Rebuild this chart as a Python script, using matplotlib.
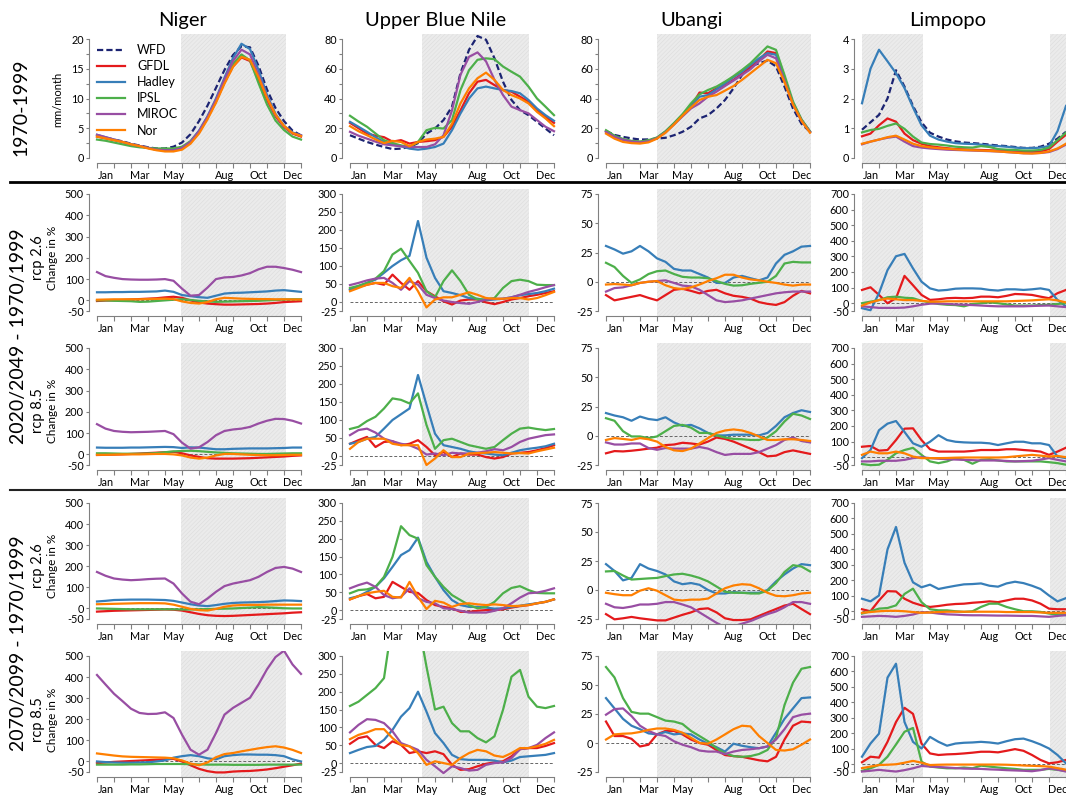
import numpy as np
import matplotlib.pyplot as plt
from matplotlib.lines import Line2D

plt.rcParams['font.family'] = ['Lato', 'DejaVu Sans']
plt.rcParams['hatch.linewidth'] = 0.4

# half-month steps from 1 Jan (0) to 31 Dec (12)
months = np.arange(25) / 2
month_pos = [0.5, 2.5, 4.5, 7.5, 9.5, 11.5]
month_names = ['Jan', 'Mar', 'May', 'Aug', 'Oct', 'Dec']

models = ['GFDL', 'Hadley', 'IPSL', 'MIROC', 'Nor']
colors = {'WFD': '#1c2472', 'GFDL': '#e41a1c', 'Hadley': '#377eb8',
          'IPSL': '#4daf4a', 'MIROC': '#984ea3', 'Nor': '#ff7f00'}

basins = ['Niger', 'Upper Blue Nile', 'Ubangi', 'Limpopo']

# ---- 1970-1999 runoff, mm/month ----
niger_hist_wfd = [3.7, 3.4, 3.1, 2.8, 2.4, 2.1, 1.8, 1.6, 1.6, 1.9, 2.6, 4.0, 6.2, 8.8, 11.8, 14.8, 17.3, 18.8, 18.6, 15.5, 11.5, 8.4, 6.2, 4.6, 3.8]
niger_hist_gfdl = [3.6, 3.3, 3.0, 2.7, 2.3, 2.0, 1.7, 1.4, 1.3, 1.3, 1.6, 2.6, 4.3, 6.7, 9.5, 12.7, 15.4, 16.9, 16.3, 13.2, 9.8, 7.0, 5.2, 4.1, 3.6]
niger_hist_hadley = [3.9, 3.5, 3.1, 2.7, 2.3, 2.0, 1.7, 1.4, 1.3, 1.3, 1.7, 2.8, 4.6, 7.0, 10.0, 13.5, 16.8, 19.2, 18.3, 14.8, 10.6, 7.4, 5.4, 4.3, 3.8]
niger_hist_ipsl = [3.1, 2.9, 2.6, 2.3, 2.0, 1.8, 1.7, 1.6, 1.6, 1.6, 1.9, 2.8, 4.4, 6.8, 9.7, 13.0, 15.8, 17.4, 16.4, 12.6, 9.0, 6.3, 4.7, 3.6, 3.1]
niger_hist_miroc = [3.9, 3.5, 3.1, 2.7, 2.3, 2.0, 1.7, 1.4, 1.3, 1.3, 1.7, 2.7, 4.5, 6.9, 9.8, 13.2, 16.3, 18.2, 17.4, 14.0, 10.2, 7.2, 5.3, 4.2, 3.8]
niger_hist_nor = [3.6, 3.3, 3.0, 2.7, 2.3, 2.0, 1.6, 1.3, 1.1, 1.1, 1.4, 2.4, 4.1, 6.5, 9.3, 12.5, 15.3, 17.0, 16.5, 13.6, 10.1, 7.3, 5.4, 4.2, 3.7]

ubn_hist_wfd = [15.3, 13, 10.8, 9, 7.4, 6, 6.3, 7.4, 10, 16.4, 19.8, 25.5, 34.5, 57, 72.7, 82, 79.5, 67, 51.3, 39, 32.2, 28.8, 24.3, 19.8, 15.3]
ubn_hist_gfdl = [23.6, 20, 16.4, 15, 14, 11, 12, 9.7, 10.8, 11.3, 12, 14.2, 21, 32, 43.5, 51.3, 52.5, 49, 45.7, 44.6, 41.2, 37.8, 32.2, 27.7, 23.6]
ubn_hist_hadley = [24.3, 21, 17.6, 14, 10.8, 9, 7.9, 6.3, 5.6, 6.3, 7.4, 9.7, 18.7, 30, 40, 46.8, 48, 46.8, 45.7, 45, 43.5, 39, 33.3, 28.8, 25]
ubn_hist_ipsl = [28.4, 24.5, 21, 16.5, 12, 10, 8.5, 7.4, 10.8, 18.7, 20.3, 19.8, 25.5, 45.7, 59, 66, 67, 66.4, 61.5, 58, 54.7, 48, 40, 34.5, 28.8]
ubn_hist_miroc = [17.6, 15, 13, 11, 9.2, 8.5, 7.9, 7.4, 7.4, 7.4, 9.2, 15.3, 32, 56, 68, 71, 65, 52.5, 42.3, 34.5, 32.2, 30, 25.5, 21, 18]
ubn_hist_nor = [21.4, 18, 15.3, 12.5, 10, 11.5, 10.8, 7.9, 10.8, 12.4, 13, 14.2, 23, 36.7, 46.8, 53.6, 57.4, 52.5, 45.7, 42.3, 40, 36.7, 31, 26.6, 21.4]

ubangi_hist_wfd = [18.2, 15.5, 14.2, 13.2, 12.4, 12.5, 13, 13.6, 15.3, 17.6, 21, 26.6, 28.8, 33.3, 39, 46.8, 55.8, 61.5, 63.7, 65.5, 61.5, 48, 33.3, 23, 17.6]
ubangi_hist_gfdl = [18, 14.5, 12.4, 11.2, 10.8, 11.5, 13.5, 17.6, 23, 28.8, 34.5, 44, 43.5, 46.8, 49, 52.5, 56.5, 61.5, 66, 71.6, 70.5, 53, 36.7, 25.5, 17.6]
ubangi_hist_hadley = [18, 14.5, 12.4, 11.2, 10.8, 11.5, 13.5, 17.6, 23, 28.8, 34.5, 41.2, 42.3, 46.2, 50.2, 54.3, 58, 62.6, 67, 70.5, 69.4, 53, 36.7, 25.5, 17.6]
ubangi_hist_ipsl = [18.7, 15, 12.8, 11.5, 11, 12, 13.8, 18, 23.5, 29.5, 36.7, 42.8, 45.7, 48, 51.3, 55, 59.2, 63.7, 69.4, 75, 72.7, 55.8, 38, 26, 18]
ubangi_hist_miroc = [17.5, 14.2, 12.2, 11, 10.5, 11.2, 13.3, 17.2, 22.5, 28, 33.3, 36.7, 41.2, 44.6, 48.4, 52, 55.8, 59.7, 65, 69.4, 67, 52, 36, 25, 17.5]
ubangi_hist_nor = [16.4, 13, 10.8, 10, 9.7, 10.5, 13, 17, 22.5, 28.5, 34, 39, 41.2, 42.3, 45.3, 48.4, 52.5, 57, 61.5, 66, 63.7, 51, 36, 25, 17]

limpopo_hist_wfd = [0.95, 1.2, 1.45, 2.0, 2.95, 2.4, 1.75, 1.2, 0.85, 0.72, 0.62, 0.56, 0.52, 0.5, 0.48, 0.45, 0.42, 0.4, 0.37, 0.34, 0.34, 0.38, 0.48, 0.65, 0.88]
limpopo_hist_gfdl = [0.73, 0.82, 1.1, 1.33, 1.22, 0.82, 0.6, 0.48, 0.4, 0.36, 0.33, 0.3, 0.29, 0.28, 0.27, 0.26, 0.25, 0.24, 0.22, 0.2, 0.2, 0.22, 0.3, 0.55, 0.78]
limpopo_hist_hadley = [1.84, 3.0, 3.64, 3.25, 2.85, 2.35, 1.7, 1.1, 0.75, 0.62, 0.55, 0.5, 0.48, 0.47, 0.45, 0.42, 0.4, 0.38, 0.35, 0.33, 0.33, 0.35, 0.4, 0.9, 1.75]
limpopo_hist_ipsl = [0.86, 0.94, 0.98, 1.08, 1.16, 0.98, 0.72, 0.52, 0.47, 0.45, 0.42, 0.38, 0.36, 0.35, 0.4, 0.37, 0.3, 0.28, 0.27, 0.25, 0.25, 0.27, 0.35, 0.6, 0.85]
limpopo_hist_miroc = [0.46, 0.55, 0.62, 0.68, 0.72, 0.55, 0.4, 0.35, 0.32, 0.3, 0.28, 0.27, 0.26, 0.25, 0.24, 0.23, 0.22, 0.2, 0.18, 0.16, 0.16, 0.17, 0.2, 0.3, 0.45]
limpopo_hist_nor = [0.48, 0.55, 0.62, 0.7, 0.75, 0.62, 0.48, 0.4, 0.36, 0.33, 0.31, 0.29, 0.27, 0.26, 0.25, 0.24, 0.22, 0.2, 0.18, 0.16, 0.15, 0.17, 0.22, 0.32, 0.48]

# ---- change in %, 2020/2049 rcp 2.6 ----
niger_mid26_gfdl = [-3, -1, 0, 2, 4, 6, 8, 10, 14, 17, 12, 0, -10, -15, -18, -20, -20, -19, -18, -17, -15, -12, -8, -6, -4]
niger_mid26_hadley = [38, 38, 39, 39, 40, 40, 41, 42, 46, 40, 25, 20, 15, 12, 22, 32, 35, 36, 38, 40, 42, 46, 48, 44, 40]
niger_mid26_ipsl = [0, 0, -2, -3, -4, -7, -6, -3, 0, 3, 5, 2, -2, -5, -7, -6, -5, -4, -3, -2, 0, 2, 4, 5, 5]
niger_mid26_miroc = [133, 114, 106, 100, 98, 97, 97, 98, 100, 92, 55, 22, 25, 60, 100, 108, 110, 117, 128, 146, 158, 158, 152, 144, 133]
niger_mid26_nor = [3, 4, 5, 5, 5, 5, 6, 7, 8, 6, -5, -12, -15, -8, 5, 12, 10, 8, 7, 6, 6, 5, 5, 4, 4]

ubn_mid26_gfdl = [35, 42, 48, 53, 48, 76, 53, 34, 58, 30, 16, 2, -7, 4, 7, 7, -1, -6, 0, 7, 11, 16, 20, 25, 30]
ubn_mid26_hadley = [34, 44, 53, 62, 81, 100, 116, 128, 225, 123, 67, 30, 25, 19, 11, 9, 5, 7, 9, 13, 19, 22, 25, 30, 37]
ubn_mid26_ipsl = [39, 45, 53, 65, 86, 132, 148, 114, 81, 30, 13, 58, 88, 58, 20, 7, 7, 11, 39, 58, 62, 58, 48, 47, 47]
ubn_mid26_miroc = [47, 53, 60, 65, 67, 53, 34, 58, 48, 20, 11, 4, 0, -3, -5, 0, 7, 9, 9, 13, 20, 28, 34, 41, 47]
ubn_mid26_nor = [30, 39, 48, 53, 53, 44, 39, 67, 30, -15, 7, 13, 13, 20, 27, 20, 11, 9, 9, 11, 11, 7, 11, 19, 28]

ubangi_mid26_gfdl = [-11.4, -15.9, -14.4, -12.9, -11.4, -13.8, -15.9, -11.4, -6.9, -6, -7.8, -9.9, -7.8, -6.9, -9.9, -12, -12.9, -14.4, -17.4, -18.9, -19.8, -17.4, -12, -7.8, -9.9]
ubangi_mid26_hadley = [30.6, 27.6, 24, 26, 30.6, 26, 20, 17, 11, 9.6, 9.6, 6.6, 3.6, -1, -1, 3.6, 5, 3, 1.2, 3.6, 15.6, 23, 26, 30, 30.6]
ubangi_mid26_ipsl = [16.2, 12.6, 5, -1, 2, 6.6, 9, 9.6, 6.6, 4.2, 3.6, 3.6, 3, 0.6, -1.8, -3.3, -3, -1.8, -0.9, 0, 5, 15.6, 17, 16.5, 16.5]
ubangi_mid26_miroc = [-8.4, -5.4, -4.8, -3, -1, 0, 0.6, 1.2, -1, -3.3, -3.9, -6.9, -11.4, -15.9, -17.4, -16.8, -15.9, -14.4, -12.9, -11.4, -9.9, -9, -8.4, -8.4, -8.4]
ubangi_mid26_nor = [-2.4, -2, -2.4, -3, -1, 0, 0.6, -3, -5.4, -6.3, -4.8, -2.4, 0.6, 3, 6, 6, 3.6, 2, 1.2, 0, -1, -2.4, -3.3, -2.4, -2.4]

limpopo_mid26_gfdl = [85, 102, 53, 0, 32, 175, 115, 53, 21, 25, 32, 34, 32, 34, 42, 42, 38, 47, 59, 57, 53, 42, 32, 64, 85]
limpopo_mid26_hadley = [-32, -45, 64, 212, 301, 316, 223, 138, 95, 81, 85, 93, 95, 95, 93, 85, 81, 89, 89, 85, 89, 95, 85, 21, -21]
limpopo_mid26_ipsl = [0, 10, 20, 38, 42, 35, 32, 15, 5, -5, -10, -12, -20, -5, 0, 5, 0, -8, -15, -15, -15, -12, -10, -5, 0]
limpopo_mid26_miroc = [-20, -25, -30, -30, -30, -28, -20, -10, -3, -2, -5, -8, -10, -12, -15, -18, -20, -20, -20, -20, -18, -16, -15, -20, -25]
limpopo_mid26_nor = [-15, 5, 20, 30, 25, 20, 20, 15, 10, 10, 12, 12, 12, 12, 12, 12, 12, 12, 14, 16, 18, 22, 25, 18, 5]

# ---- change in %, 2020/2049 rcp 8.5 ----
niger_mid85_gfdl = [-3, -2, -1, 0, 2, 4, 6, 8, 10, 12, 5, -5, -12, -18, -20, -20, -20, -19, -18, -16, -14, -12, -10, -7, -5]
niger_mid85_hadley = [32, 31, 31, 31, 32, 32, 33, 34, 35, 34, 30, 33, 32, 28, 24, 24, 26, 27, 28, 28, 28, 29, 30, 32, 32]
niger_mid85_ipsl = [5, 5, 4, 3, 3, 3, 4, 6, 10, 14, 16, 17, 15, 12, 9, 7, 5, 4, 3, 2, 2, 3, 4, 5, 5]
niger_mid85_miroc = [142, 121, 110, 106, 104, 105, 106, 108, 110, 95, 55, 27, 33, 58, 90, 110, 117, 121, 129, 145, 158, 167, 166, 158, 145]
niger_mid85_nor = [-2, -2, -1, 0, 0, 0, 1, 2, 2, 0, -5, -15, -20, -15, -5, 2, 2, 0, -2, -3, -4, -4, -3, -2, -2]

ubn_mid85_gfdl = [34, 44, 53, 25, 39, 41, 30, 34, 44, 25, 2, 11, -3, 7, 4, 4, -3, -7, -3, 7, 9, 11, 16, 22, 30]
ubn_mid85_hadley = [34, 39, 48, 53, 76, 100, 116, 132, 225, 142, 62, 30, 25, 20, 13, 9, 7, 4, 2, 9, 16, 20, 23, 27, 34]
ubn_mid85_ipsl = [75, 81, 97, 109, 132, 160, 156, 146, 174, 86, 20, 44, 48, 39, 30, 25, 20, 25, 44, 62, 76, 79, 75, 72, 75]
ubn_mid85_miroc = [58, 72, 76, 65, 48, 41, 34, 30, 20, 4, 7, 2, 9, 7, 7, 9, 13, 19, 16, 25, 39, 48, 53, 58, 60]
ubn_mid85_nor = [20, 39, 48, 48, 48, 34, 30, 30, 30, -25, -7, 16, -3, -3, 7, 8, 9, 11, 9, 7, 8, 7, 13, 18, 23]

ubangi_mid85_gfdl = [-15, -13.1, -13.4, -12.8, -12, -11, -10.2, -8, -7.5, -6, -6.6, -7.5, -5, -1.5, -2.7, -5, -8, -11, -14, -17.6, -17, -14, -12.5, -14, -15.5]
ubangi_mid85_hadley = [19.4, 17.3, 15.8, 12.8, 16.4, 14.3, 13.4, 15.8, 11.4, 8.4, 9.3, 6.3, 2.4, 0.3, 0.3, 0.9, 0.9, 0.9, 0.3, 2.4, 8.4, 15.8, 19.4, 21.8, 20.3]
ubangi_mid85_ipsl = [15, 12.8, 3.9, -0.6, -0.6, -2, -0.6, 3.9, 8.4, 9.3, 6.9, 2.4, 2.4, 0.3, -1.5, -2.7, -3, -3.6, -3.6, -1.5, 3.9, 12.2, 18.8, 17.3, 14.3]
ubangi_mid85_miroc = [-5.7, -7.5, -7.5, -6.6, -6.6, -10.5, -12, -10.5, -11, -11, -11, -9.6, -11, -14, -16.4, -15.5, -15.5, -15.5, -14, -11, -8, -3.6, -1.5, -4.5, -5.7]
ubangi_mid85_nor = [-3.6, -2, -2.7, -3.6, -2, -3, -5, -9.6, -12.5, -13.1, -11, -6.6, -2, 2.4, 4.5, 5.4, 4.5, 2.4, -0.6, -3.6, -3.6, -3, -3, -3.6, -4.5]

limpopo_mid85_gfdl = [67, 72, 42, 46, 110, 183, 185, 110, 51, 36, 36, 36, 36, 40, 46, 46, 46, 51, 51, 46, 42, 36, 15, 36, 61]
limpopo_mid85_hadley = [-6, 46, 173, 215, 232, 162, 89, 67, 99, 141, 110, 99, 95, 93, 93, 89, 78, 89, 99, 99, 89, 89, 78, 4, -6]
limpopo_mid85_ipsl = [-44, -51, -48, -17, 25, 46, 60, 15, -27, -38, -27, -6, -17, -42, -17, -13, -21, -27, -27, -27, -27, -27, -32, -38, -48]
limpopo_mid85_miroc = [-27, -27, -23, -23, -23, -17, -6, 0, -6, -10, -13, -15, -17, -19, -21, -21, -21, -24, -27, -25, -23, -15, -6, -17, -27]
limpopo_mid85_nor = [15, 36, 25, 25, 36, 25, 4, -6, -6, -6, -5, -3, -2, -2, -2, -2, -2, 0, 5, 10, 15, 10, 4, 8, 0]

# ---- change in %, 2070/2099 rcp 2.6 ----
niger_end26_gfdl = [-15, -13, -11, -10, -9, -8, -7, -6, -5, -6, -10, -18, -26, -32, -35, -36, -35, -33, -31, -29, -27, -25, -23, -20, -18]
niger_end26_hadley = [33, 36, 40, 41, 42, 42, 42, 41, 40, 36, 28, 20, 14, 11, 16, 22, 26, 28, 29, 30, 32, 35, 38, 37, 35]
niger_end26_ipsl = [0, -1, -2, -3, -4, -4, -4, -4, -4, -4, -5, -5, -4, -3, -2, -1, 0, 2, 4, 6, 5, 3, 1, 0, 0]
niger_end26_miroc = [173, 155, 142, 137, 134, 136, 139, 141, 142, 118, 71, 32, 20, 47, 79, 106, 118, 126, 134, 150, 173, 192, 197, 189, 173]
niger_end26_nor = [20, 21, 22, 23, 24, 25, 25, 25, 24, 18, 8, -2, -8, -10, -2, 8, 14, 16, 17, 17, 18, 18, 18, 18, 18]

ubn_end26_gfdl = [30, 39, 45, 33, 37, 79, 65, 51, 48, 28, 14, 9, 5, -5, -5, -2, 0, 0, 2, 7, 11, 14, 19, 23, 30]
ubn_end26_hadley = [33, 39, 51, 65, 89, 121, 154, 168, 203, 135, 93, 56, 28, 14, 9, 9, 7, 4, 5, 9, 12, 16, 19, 23, 30]
ubn_end26_ipsl = [47, 56, 58, 65, 93, 149, 235, 210, 200, 126, 93, 65, 42, 28, 14, 5, 9, 23, 47, 62, 67, 56, 48, 47, 47]
ubn_end26_miroc = [61, 70, 77, 65, 42, 33, 37, 61, 33, 23, 19, 5, 3, -2, -7, -7, -7, -2, 5, 19, 35, 47, 49, 54, 61]
ubn_end26_nor = [30, 39, 47, 51, 54, 37, 35, 79, 37, 3, 26, 21, 9, 17, 19, 16, 14, 16, 14, 11, 12, 14, 19, 23, 30]

ubangi_end26_gfdl = [-20.8, -25.3, -24.4, -23.2, -24.4, -25.3, -26.2, -26.2, -23.8, -21.4, -19.3, -16.4, -15.8, -19.3, -24.4, -25.9, -25.9, -25.3, -22.3, -19.3, -16.4, -13.4, -11.9, -16.4, -20.8]
ubangi_end26_hadley = [22.3, 16.4, 8.3, 10.4, 22.3, 18.5, 16.4, 13.4, 7.4, 5, 6, 4.5, 0, -3, -3, -1.8, -2.4, -2.4, -2.4, 0, 7.4, 13.4, 18.5, 22.3, 21.4]
ubangi_end26_ipsl = [16, 16.4, 12.5, 9, 9.5, 10, 10.4, 12, 13.4, 14, 12.5, 10.4, 7.4, 3, -1.5, -2.4, -2.4, -3, -3, -0.6, 6, 15.5, 21.4, 20.2, 16]
ubangi_end26_miroc = [-11.9, -14.9, -15.5, -14.3, -12.5, -12.5, -11.9, -10.4, -10.4, -12.5, -14.9, -19.3, -23.8, -28.3, -32, -31.3, -29, -26.8, -23.8, -20.8, -18.5, -14.9, -10.4, -10.4, -11.9]
ubangi_end26_nor = [-2.4, -3.6, -4.5, -4.5, -0.6, 1.5, -0.6, -4.5, -8.3, -9, -8.3, -8.3, -7.4, -3, 1.5, 3.9, 5, 4.5, 1.5, -2.4, -5, -5.4, -4.5, -3, -2.4]

limpopo_end26_gfdl = [13, 0, 70, 130, 128, 81, 55, 38, 28, 34, 42, 47, 49, 55, 59, 64, 59, 70, 81, 81, 70, 49, 17, 13, 13]
limpopo_end26_hadley = [81, 64, 102, 400, 545, 314, 187, 155, 172, 144, 155, 165, 174, 176, 180, 165, 159, 180, 191, 182, 165, 144, 102, 64, 85]
limpopo_end26_ipsl = [-15, 0, 17, 21, 38, 112, 146, 59, 13, 6, 6, 0, -4, 0, 28, 49, 49, 28, 13, 0, 0, -4, -15, -21, -25]
limpopo_end26_miroc = [-36, -33, -30, -32, -36, -30, -21, -6, -8, -15, -20, -22, -25, -26, -26, -27, -28, -28, -29, -30, -30, -33, -36, -30, -25]
limpopo_end26_nor = [-10, -5, 0, 3, 3, 0, -5, -10, -8, -5, -3, -3, -3, -3, -3, -3, -3, -5, -5, -5, -5, -8, -10, -10, -10]

# ---- change in %, 2070/2099 rcp 8.5 ----
niger_end85_gfdl = [-8, -5, -2, 0, 2, 4, 6, 8, 10, 12, 0, -18, -35, -46, -52, -52, -48, -46, -45, -42, -38, -32, -25, -18, -10]
niger_end85_hadley = [0, -3, -5, -6, -6, -5, -4, 0, 5, 18, 25, 30, 25, 15, 10, 25, 30, 33, 33, 32, 32, 30, 25, 10, 0]
niger_end85_ipsl = [-15, -15, -15, -15, -14, -14, -13, -12, -12, -12, -12, -13, -14, -15, -15, -15, -16, -16, -16, -16, -15, -15, -15, -15, -15]
niger_end85_miroc = [410, 365, 321, 286, 250, 230, 225, 226, 233, 206, 127, 56, 32, 56, 135, 222, 254, 278, 302, 365, 437, 495, 525, 460, 415]
niger_end85_nor = [38, 33, 28, 24, 22, 21, 20, 19, 18, 15, 5, -10, -18, -5, 20, 35, 40, 48, 55, 62, 68, 72, 66, 55, 40]

ubn_end85_gfdl = [54, 70, 75, 51, 42, 61, 51, 28, 33, 28, 33, 25, -5, -19, -17, -9, -2, 2, 5, 19, 39, 42, 42, 48, 56]
ubn_end85_hadley = [28, 37, 45, 48, 65, 93, 130, 154, 200, 144, 84, 56, 23, 11, 9, 9, 9, 7, 2, 7, 17, 19, 21, 23, 28]
ubn_end85_ipsl = [160, 172, 191, 210, 238, 400, 480, 500, 400, 270, 150, 158, 112, 89, 89, 70, 58, 75, 149, 242, 261, 186, 158, 154, 160]
ubn_end85_miroc = [86, 107, 123, 121, 112, 89, 56, 47, 37, 9, -9, -28, -9, -14, -21, -19, -5, 0, 2, 14, 39, 42, 51, 70, 86]
ubn_end85_nor = [67, 79, 86, 95, 95, 70, 51, 47, 28, -5, 5, 0, -5, 14, 28, 37, 33, 21, 17, 28, 42, 42, 47, 54, 65]

ubangi_end85_gfdl = [18.5, 6, 6, 3.6, -3, -1.5, 7.4, 10.4, 10.4, 7.4, 3, 0, -1.5, -6, -10.4, -11.3, -11.9, -13.4, -14.9, -15.8, -11.9, 3, 14.9, 18.5, 17.9]
ubangi_end85_hadley = [38.7, 29.8, 20.8, 14.9, 11.9, 8.3, 7.4, 9.5, 7.4, 8.3, 7.4, 3, -0.6, -3.6, -7.4, -0.6, -2.4, -3.6, -4.5, -3, 8.9, 20.8, 29.8, 38.7, 39.3]
ubangi_end85_ipsl = [65.5, 56.5, 38.7, 26.8, 25.3, 25.3, 22.3, 19.3, 18.5, 16.4, 10.4, 6, 1.5, -4.5, -8.9, -11.3, -11.9, -11.3, -9.5, -6, 4.5, 32.7, 52, 64, 65.5]
ubangi_end85_miroc = [24.4, 29.2, 29.8, 23.2, 14.9, 10.4, 7.4, 6, 1.5, -1.5, -3.6, -6.5, -7.4, -7.4, -9.5, -7.4, -6, -5.4, -4.5, -3, 3, 11.9, 22.3, 24.4, 25.3]
ubangi_end85_nor = [3, 7.4, 8, 8.3, 9.5, 11.3, 12.5, 12.5, 11.3, 8.9, 4.5, 0, -0.6, 3, 7.4, 11.9, 14.9, 14.3, 6, 0, -6, -6.5, -5.4, -1.5, 3]

limpopo_end85_gfdl = [13, 49, 43, 145, 273, 365, 326, 134, 70, 60, 64, 66, 70, 75, 81, 81, 77, 87, 98, 87, 60, 28, 6, 13, 28]
limpopo_end85_hadley = [49, 134, 198, 560, 650, 273, 145, 102, 177, 145, 120, 134, 139, 141, 145, 141, 134, 149, 162, 166, 149, 128, 102, 60, 6]
limpopo_end85_ipsl = [-43, -26, -4, 49, 128, 210, 235, 17, -15, -21, -26, -26, -21, -26, -9, -15, -21, -26, -30, -36, -36, -36, -30, -36, -43]
limpopo_end85_miroc = [-47, -42, -36, -42, -47, -38, -26, -11, -15, -18, -21, -25, -28, -29, -30, -33, -35, -38, -40, -42, -45, -38, -26, -35, -47]
limpopo_end85_nor = [-25, -15, -5, -3, 0, 10, 22, 10, -5, -3, -2, -2, -2, -2, -2, -2, -2, -3, -5, -8, -10, -12, -15, -25, -35]

# rainy season shading per basin (months)
seasons = [[(4.95, 11.1)], [(4.25, 10.55)], [(3.0, 12.05)], [(0.0, 3.6), (11.05, 12.6)]]

hist_ylim = [(0, 20), (0, 80), (0, 80), (0, 4)]
hist_ticks = [[0, 2.5, 5, 7.5, 10, 12.5, 15, 17.5, 20], list(range(0, 81, 10)),
              list(range(0, 81, 10)), [0, 1, 2, 3, 4]]
hist_labeled = [[0, 5, 10, 15, 20], [0, 20, 40, 60, 80], [0, 20, 40, 60, 80], [0, 1, 2, 3, 4]]
chg_ylim = [(-50, 500), (-25, 300), (-25, 75), (-50, 700)]
chg_ticks = [[-50, 0, 100, 200, 300, 400, 500], [-25, 0, 50, 100, 150, 200, 250, 300],
             [-25, 0, 25, 50, 75], [-50, 0, 100, 200, 300, 400, 500, 600, 700]]

g = globals()
prefixes = ['niger', 'ubn', 'ubangi', 'limpopo']
periods = ['hist', 'mid26', 'mid85', 'end26', 'end85']

W, H = 1066, 795
fig = plt.figure(figsize=(W / 100, H / 100), dpi=100)

col_x0 = [97, 350, 606, 862]
row_y = [(39, 158), (194, 311), (348, 465), (503, 619), (656, 772)]
span = 204


def make_axes(c, r):
    top, bot = row_y[r]
    h = bot - top
    left = col_x0[c] - 0.04 * span
    t = top - 0.04 * h
    return fig.add_axes([left / W, 1 - (t + 1.08 * h) / H, 1.08 * span / W, 1.08 * h / H])


for c in range(4):
    for r in range(5):
        ax = make_axes(c, r)
        if r == 0:
            lo, hi = hist_ylim[c]
            ticks = hist_ticks[c]
            labels = [('%g' % t if t in hist_labeled[c] else '') for t in ticks]
            names = ['WFD'] + models
        else:
            lo, hi = chg_ylim[c]
            ticks = chg_ticks[c]
            labels = ['%g' % t for t in ticks]
            names = models
        pad = 0.04 * (hi - lo)
        ax.set_ylim(lo - pad, hi + pad)
        ax.set_xlim(-0.48, 12.48)

        for a, b in seasons[c]:
            ax.axvspan(a, b, facecolor='#ebebeb', edgecolor='#dcdcdc',
                       hatch='////////', lw=0, zorder=0)
        if r > 0:
            ax.hlines(0, 0, 12, colors='#666666', linestyles=(0, (3, 2)), lw=0.7, zorder=1)

        for name in names:
            vals = g['%s_%s_%s' % (prefixes[c], periods[r], name.lower())]
            style = (0, (2.8, 1.4)) if name == 'WFD' else '-'
            ax.plot(months, vals, color=colors[name], lw=1.6, ls=style, label=name, zorder=2)

        for s in ['top', 'right']:
            ax.spines[s].set_visible(False)
        for s in ['left', 'bottom']:
            ax.spines[s].set_color('#808080')
            ax.spines[s].set_linewidth(0.8)
        ax.spines['left'].set_bounds(lo, hi)
        ax.spines['bottom'].set_bounds(0, 12)

        ax.set_yticks(ticks)
        ax.set_yticklabels(labels)
        ax.set_xticks(range(13))
        ax.set_xticklabels([])
        ax.set_xticks(month_pos, minor=True)
        ax.set_xticklabels(month_names, minor=True)
        ax.tick_params(axis='y', length=2.5, width=0.8, color='#808080', labelsize=7.8, pad=1)
        ax.tick_params(axis='x', which='major', length=3.8, width=0.8, color='#808080')
        ax.tick_params(axis='x', which='minor', length=0, labelsize=7.8, pad=5)

        if r == 0 and c == 0:
            ax.legend(loc='upper left', bbox_to_anchor=(97 / W, 1 - 44 / H),
                      bbox_transform=fig.transFigure, frameon=False, fontsize=9,
                      handlelength=2.2, handletextpad=1.0, labelspacing=0.33,
                      borderpad=0, borderaxespad=0)


def ftext(x, y, s, **kw):
    fig.text(x / W, 1 - y / H, s, **kw)


for c, name in enumerate(basins):
    ftext(col_x0[c] + 86, 26, name, fontsize=14.5, ha='center', va='baseline')

ftext(21, 107, '1970-1999', fontsize=14, rotation=90, ha='center', va='center')
ftext(58, 99, 'mm/month', fontsize=8, rotation=90, ha='center', va='center')
ftext(19, 336, '2020/2049 - 1970/1999', fontsize=14, rotation=90, ha='center', va='center')
ftext(19, 643, '2070/2099 - 1970/1999', fontsize=14, rotation=90, ha='center', va='center')
for y, rcp in [(258, 'rcp 2.6'), (411, 'rcp 8.5'), (566, 'rcp 2.6'), (720, 'rcp 8.5')]:
    ftext(38, y, rcp, fontsize=10.5, rotation=90, ha='center', va='center')
    ftext(52, y, 'Change in %', fontsize=8.5, rotation=90, ha='center', va='center')

fig.add_artist(Line2D([10 / W, 1], [1 - 182 / H] * 2, color='black', lw=2))
fig.add_artist(Line2D([10 / W, 1], [1 - 490 / H] * 2, color='#222222', lw=1.5))

fig.savefig('out.png', dpi=100)
